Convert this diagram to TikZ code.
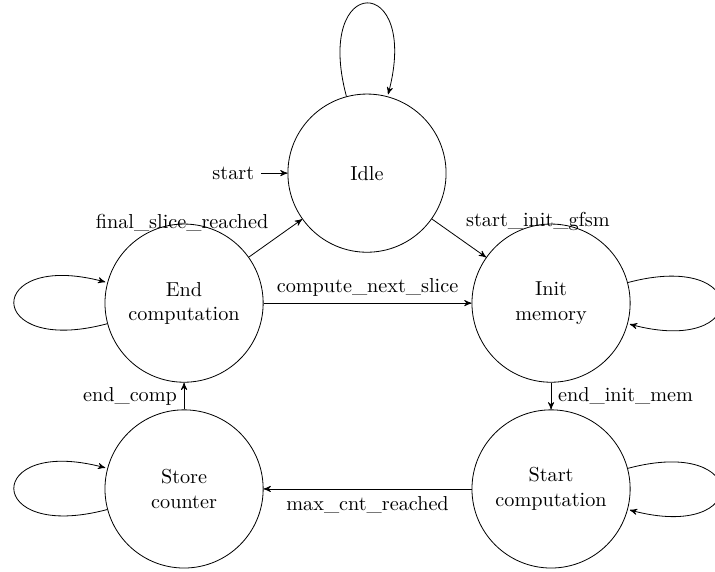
\documentclass[tikz,border=0pt]{standalone}
\usepackage{amsmath}
\usepackage{tikz}
\usetikzlibrary{arrows,automata}
\tikzstyle{fsm state}=[state,minimum size=2.75cm,align=center]
\tikzstyle{edge} = [draw,->]

\begin{document}
\begin{tikzpicture}[>=stealth',auto]
    \useasboundingbox (-3.2,-4.66) rectangle (9.23,5.27);
    % First we draw the states
    \node[fsm state,initial,initial text=start] (idle) at (3.18,2.26) {Idle};
    \foreach \pos/\name/\txt in {{(0,0)/endc/{End\\computation}},{(6.38,0)/init/{Init\\memory}},
        {(0,-3.23)/store/{Store\\counter}},{(6.38,-3.23)/start/{Start\\computation}}}
        \node[fsm state] (\name) at \pos {\txt};

    % Connect states with transitions
    \foreach \source/\dest/\lbl in {idle/init/start\_init\_gfsm, endc/idle/final\_slice\_reached,
        endc/init/compute\_next\_slice, init/start/end\_init\_mem,
        start/store/max\_cnt\_reached, store/endc/end\_comp}
        \path[edge] (\source) -- node {\lbl} (\dest);

    % Self loops
    \foreach \name/\side in {idle/above, endc/left, store/left, init/right, start/right}
        \path[edge] (\name) edge[loop \side] (\name);
\end{tikzpicture}
\end{document}
